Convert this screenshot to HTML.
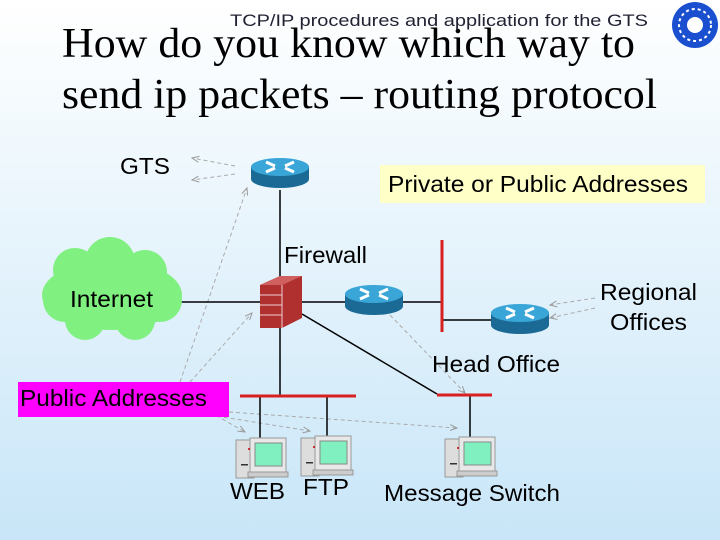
<!DOCTYPE html>
<html><head><style>
body{margin:0}
svg{display:block}
text{font-family:"Liberation Sans",Arial,sans-serif;fill:#000}
</style></head><body>
<svg width="720" height="540" xmlns="http://www.w3.org/2000/svg">
<defs>
<linearGradient id="bg" x1="0" y1="0" x2="0" y2="1"><stop offset="0" stop-color="#ffffff"/><stop offset="1" stop-color="#c8e6f8"/></linearGradient>
<g id="router"><path d="M-29,0 v12 a29,9 0 0 0 58,0 v-12z" fill="#1a6a95"/><ellipse cx="0" cy="0" rx="29" ry="9" fill="#3aa6d8"/><path d="M-14,-5 l9,4 M14,-5 l-9,4 M-14,5 l9,-4 M14,5 l-9,-4" stroke="#fff" stroke-width="3"/></g>
<g id="pc"><rect x="0" y="2" width="18" height="38" fill="#ddd" stroke="#999"/><rect x="14" y="0" width="36" height="34" fill="#e8e8e8" stroke="#999"/><rect x="19" y="5" width="27" height="23" fill="#80f0c0" stroke="#888"/><rect x="12" y="34" width="40" height="5" fill="#ccc" stroke="#999"/><rect x="5" y="26" width="7" height="1.5" fill="#333"/><circle cx="13" cy="11" r="1" fill="#c00"/></g>
<marker id="ar" markerWidth="8" markerHeight="8" refX="7" refY="4" orient="auto"><path d="M0,1 L7,4 L0,7" fill="none" stroke="#999" stroke-width="1"/></marker>
</defs>
<rect width="720" height="540" fill="url(#bg)"/>
<text x="62" y="57" style="font-family:'Liberation Serif',serif" font-size="42" textLength="573" lengthAdjust="spacingAndGlyphs">How do you know which way to</text>
<text x="62" y="108" style="font-family:'Liberation Serif',serif" font-size="42" textLength="595" lengthAdjust="spacingAndGlyphs">send ip packets – routing protocol</text>
<text x="230" y="26" font-size="17" textLength="418" lengthAdjust="spacingAndGlyphs" style="fill:#223">TCP/IP procedures and application for the GTS</text>
<circle cx="695" cy="25" r="23" fill="#1a4fd0"/><circle cx="695" cy="25" r="16" fill="none" stroke="#fff" stroke-width="2" stroke-dasharray="3 3"/><circle cx="695" cy="25" r="8" fill="#fff"/>
<g stroke="#aaa" stroke-width="1" stroke-dasharray="4 3" fill="none" marker-end="url(#ar)">
<line x1="235" y1="166" x2="192" y2="158"/><line x1="235" y1="174" x2="192" y2="180"/>
<line x1="180" y1="382" x2="247" y2="188"/><line x1="190" y1="382" x2="252" y2="313"/>
<line x1="210" y1="412" x2="245" y2="432"/><line x1="210" y1="415" x2="310" y2="431"/><line x1="229" y1="412" x2="457" y2="428"/>
<line x1="390" y1="315" x2="465" y2="393"/><line x1="595" y1="298" x2="550" y2="305"/><line x1="595" y1="308" x2="550" y2="318"/>
</g>
<g stroke="#000" stroke-width="1.5" fill="none">
<line x1="280" y1="190" x2="280" y2="396"/>
<line x1="180" y1="302" x2="442" y2="302"/>
<line x1="442" y1="320" x2="495" y2="320"/>
<line x1="302" y1="314" x2="437" y2="394"/>
<line x1="260" y1="396" x2="260" y2="442"/><line x1="327" y1="396" x2="327" y2="442"/><line x1="470" y1="394" x2="470" y2="442"/>
</g>
<g stroke="#d82020" stroke-width="3"><line x1="442" y1="240" x2="442" y2="332"/><line x1="240" y1="396" x2="356" y2="396"/><line x1="437" y1="395" x2="492" y2="395"/></g>
<g fill="#80f080"><ellipse cx="112" cy="295" rx="70" ry="35"/><circle cx="75" cy="270" r="22"/><circle cx="110" cy="262" r="25"/><circle cx="145" cy="272" r="22"/><circle cx="160" cy="300" r="22"/><circle cx="65" cy="300" r="22"/><circle cx="85" cy="320" r="20"/><circle cx="135" cy="320" r="20"/></g>
<text x="70" y="307" font-size="23" textLength="83" lengthAdjust="spacingAndGlyphs">Internet</text>
<use href="#router" x="280" y="167"/><use href="#router" x="374" y="294"/><use href="#router" x="520" y="313"/>
<g><path d="M260,285 L280,276 L302,276 L302,318 L282,328 L260,328z" fill="#b03030"/><path d="M260,285 L280,276 L302,276 L282,285z" fill="#d06060"/><g stroke="#f0d0d0" stroke-width="1"><line x1="260" y1="295" x2="282" y2="295"/><line x1="260" y1="305" x2="282" y2="305"/><line x1="260" y1="315" x2="282" y2="315"/><line x1="282" y1="285" x2="282" y2="328"/></g></g>
<text x="284" y="263" font-size="23" textLength="83" lengthAdjust="spacingAndGlyphs">Firewall</text>
<text x="120" y="174" font-size="23" textLength="50" lengthAdjust="spacingAndGlyphs">GTS</text>
<rect x="380" y="165" width="325" height="38" fill="#ffffc8"/>
<text x="388" y="192" font-size="23" textLength="300" lengthAdjust="spacingAndGlyphs">Private or Public Addresses</text>
<text x="600" y="300" font-size="23" textLength="97" lengthAdjust="spacingAndGlyphs">Regional</text><text x="610" y="330" font-size="23" textLength="77" lengthAdjust="spacingAndGlyphs">Offices</text>
<text x="432" y="372" font-size="23" textLength="128" lengthAdjust="spacingAndGlyphs">Head Office</text>
<rect x="18" y="382" width="211" height="35" fill="#ff00ff"/>
<text x="20" y="406" font-size="23" textLength="187" lengthAdjust="spacingAndGlyphs">Public Addresses</text>
<use href="#pc" x="236" y="438"/><use href="#pc" x="301" y="436"/><use href="#pc" x="445" y="437"/>
<text x="230" y="499" font-size="23" textLength="55" lengthAdjust="spacingAndGlyphs">WEB</text><text x="303" y="495" font-size="23" textLength="46" lengthAdjust="spacingAndGlyphs">FTP</text><text x="384" y="501" font-size="23" textLength="176" lengthAdjust="spacingAndGlyphs">Message Switch</text>
</svg>
</body></html>
